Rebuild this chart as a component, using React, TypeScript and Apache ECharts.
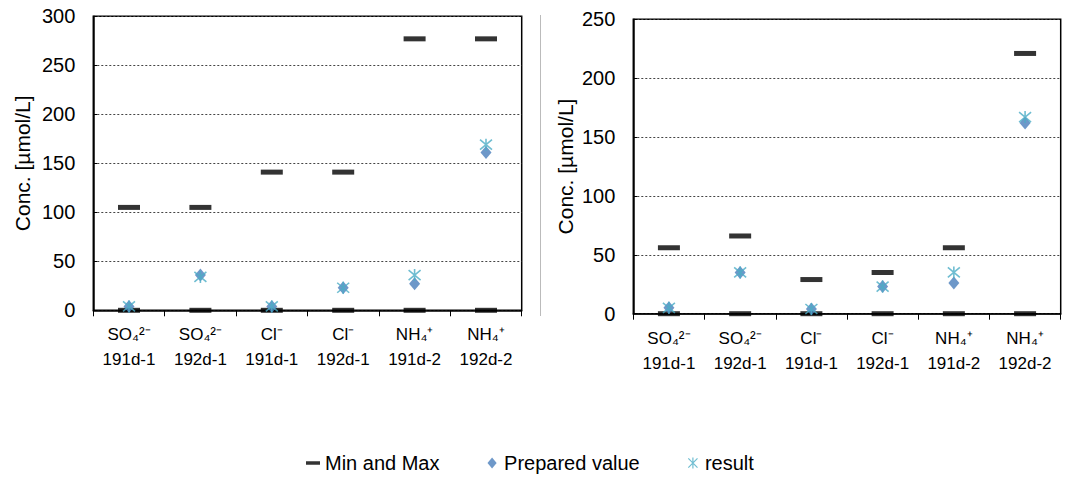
import React, { useEffect, useRef } from "react";
import * as echarts from "echarts";

const categories = [
  "SO₄²⁻\n191d-1",
  "SO₄²⁻\n192d-1",
  "Cl⁻\n191d-1",
  "Cl⁻\n192d-1",
  "NH₄⁺\n191d-2",
  "NH₄⁺\n192d-2",
];

const leftMax = [105, 105, 141, 141, 277, 277];
const leftMin = [0, 0, 0, 0, 0, 0];
const leftPrepared = [4, 36, 4, 23, 27, 161];
const leftResult = [4, 34, 4, 23, 36, 169];

const rightMax = [56, 66, 29, 35, 56, 221];
const rightMin = [0, 0, 0, 0, 0, 0];
const rightPrepared = [5, 35, 4, 23, 26, 162];
const rightResult = [5, 35, 4, 23, 35, 167];

const leftTicks = { min: 0, max: 300, interval: 50 };
const rightTicks = { min: 0, max: 250, interval: 50 };

const FONT = "'Liberation Sans', Arial, sans-serif";
const BLUE = "#4a7ebb";
const CYAN = "#4bacc6";
const STAR = "path://M0,0L10,10M10,0L0,10M5,-1L5,11";

export default function App() {
  const ref = useRef<HTMLDivElement>(null);
  useEffect(() => {
    if (!ref.current) return;
    const chart = echarts.init(ref.current, null, { renderer: "svg" });

    const minMaxData = (mx: number[], mn: number[]) => {
      const d: [number, number][] = [];
      mx.forEach((v, i) => d.push([i, v]));
      mn.forEach((v, i) => d.push([i, v]));
      return d;
    };

    const xAxis = (gridIndex: number) => ({
      type: "category",
      gridIndex,
      data: categories,
      boundaryGap: true,
      axisLine: { lineStyle: { color: "#000", width: 1.5 } },
      axisTick: { show: true, length: 6, lineStyle: { color: "#000", width: 1 } },
      axisLabel: {
        color: "#000",
        fontFamily: FONT,
        fontSize: 17,
        lineHeight: 25,
        margin: 12,
        interval: 0,
      },
      splitLine: { show: false },
    });

    const yAxis = (gridIndex: number, t: any, nameGap: number) => ({
      type: "value",
      gridIndex,
      min: t.min,
      max: t.max,
      interval: t.interval,
      name: "Conc. [µmol/L]",
      nameLocation: "middle",
      nameGap,
      nameTextStyle: { color: "#000", fontFamily: FONT, fontSize: 21 },
      axisLine: { show: true, lineStyle: { color: "#000", width: 1.5 } },
      axisTick: { show: true, inside: true, length: 4, lineStyle: { color: "#000" } },
      axisLabel: { color: "#000", fontFamily: FONT, fontSize: 20, margin: 18 },
      splitLine: { show: true, lineStyle: { color: "#444", type: [2, 2], width: 1 } },
    });

    const seriesFor = (idx: number, mx: number[], mn: number[], prep: number[], res: number[]) => [
      {
        name: "Min and Max",
        type: "scatter",
        xAxisIndex: idx,
        yAxisIndex: idx,
        symbol: "rect",
        symbolSize: [22, 5],
        itemStyle: { color: "#000" },
        data: minMaxData(mx, mn),
        z: 2,
      },
      {
        name: "Prepared value",
        type: "scatter",
        xAxisIndex: idx,
        yAxisIndex: idx,
        symbol: "diamond",
        symbolSize: [11, 13],
        itemStyle: { color: BLUE },
        data: prep.map((v, i) => [i, v]),
        z: 3,
      },
      {
        name: "result",
        type: "scatter",
        xAxisIndex: idx,
        yAxisIndex: idx,
        symbol: STAR,
        symbolSize: 12,
        itemStyle: { color: "rgba(0,0,0,0)", borderColor: CYAN, borderWidth: 1.6 },
        data: res.map((v, i) => [i, v]),
        z: 4,
      },
    ];

    chart.setOption({
      animation: false,
      textStyle: { fontFamily: FONT },
      grid: [
        { left: 93.3, width: 428.4, top: 16.3, height: 294, show: true, borderColor: "#000", borderWidth: 1.5 },
        { left: 633.3, width: 427.4, top: 19.3, height: 294.4, show: true, borderColor: "#000", borderWidth: 1.5 },
      ],
      xAxis: [xAxis(0), xAxis(1)],
      yAxis: [yAxis(0, leftTicks, 60), yAxis(1, rightTicks, 57)],
      legend: {
        left: 301,
        top: 448,
        itemWidth: 14,
        itemHeight: 11,
        itemGap: 48,
        textStyle: { color: "#000", fontFamily: FONT, fontSize: 20 },
        data: [
          { name: "Min and Max", icon: "path://M0,0h12v3h-12z", itemStyle: { color: "#000" } },
          { name: "Prepared value", icon: "path://M5,0L10,6L5,12L0,6z", itemStyle: { color: BLUE } },
          {
            name: "result",
            icon: STAR,
            itemStyle: { color: "rgba(0,0,0,0)", borderColor: CYAN, borderWidth: 1.2 },
          },
        ],
      },
      graphic: [
        {
          type: "line",
          shape: { x1: 540.5, y1: 15, x2: 540.5, y2: 316 },
          style: { stroke: "#bbb", lineWidth: 1 },
        },
      ],
      series: [
        ...seriesFor(0, leftMax, leftMin, leftPrepared, leftResult),
        ...seriesFor(1, rightMax, rightMin, rightPrepared, rightResult),
      ],
    });

    return () => chart.dispose();
  }, []);

  return (
    <div
      ref={ref}
      style={{ position: "absolute", left: 0, top: 0, width: 1083, height: 478, background: "#fff" }}
    />
  );
}
